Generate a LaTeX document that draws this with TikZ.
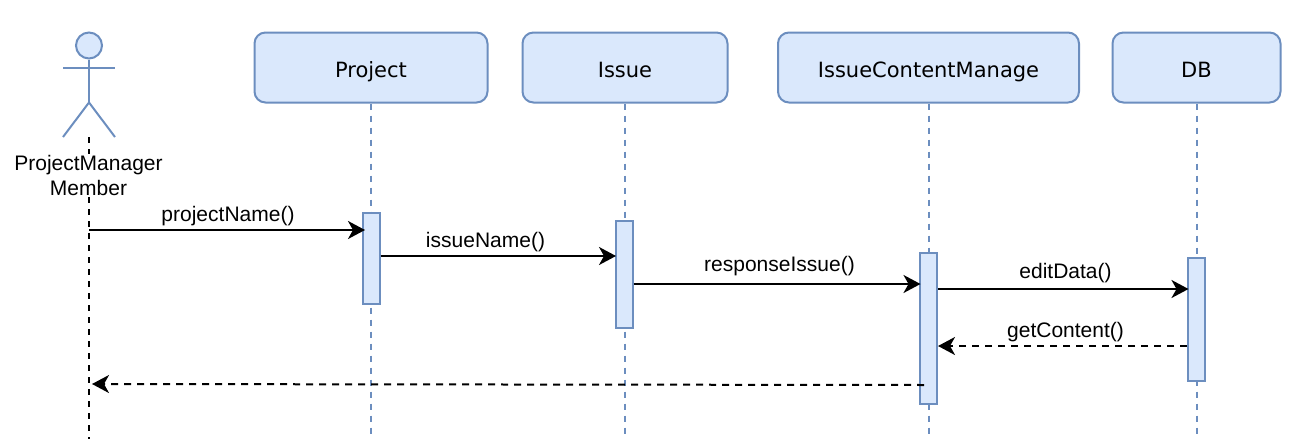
\documentclass[tikz,border=0pt]{standalone}
\usepackage{fontspec}
\setmainfont{Liberation Sans}
\newfontfamily\boxfont{DejaVu Sans}
\usetikzlibrary{arrows.meta}
\definecolor{bfill}{HTML}{DAE8FC}
\definecolor{bline}{HTML}{6C8EBF}
\tikzset{
  x=1pt,y=-1pt,
  objbox/.style={draw=bline,fill=bfill,line width=2pt,rounded corners=11pt,inner sep=0pt,text height=19pt,text depth=0pt,font=\boxfont\fontsize{21}{25}\selectfont},
  actbar/.style={draw=bline,fill=bfill,line width=2pt,inner sep=0pt,minimum width=17pt},
  life/.style={draw=bline,line width=2pt,dash pattern=on 6pt off 6pt},
  lifeblack/.style={draw=black,line width=2pt,dash pattern=on 6pt off 6pt},
  lbl/.style={inner sep=0pt,font=\fontsize{21}{25}\selectfont,text=black},
  msg/.style={draw=black,line width=2pt,-{Stealth[length=17pt,width=18pt,inset=5pt]}},
  ret/.style={msg,dash pattern=on 7pt off 6pt},
  stick/.style={draw=bline,line width=2pt}
}
\begin{document}
\begin{tikzpicture}
\useasboundingbox (0,0) rectangle (1305,439);
% object boxes
\node[objbox,minimum width=233pt,minimum height=70pt] (project) at (371,67.5) {Project};
\node[objbox,minimum width=205pt,minimum height=70pt] (issue) at (625,67.5) {Issue};
\node[objbox,minimum width=301pt,minimum height=70pt] (icm) at (928.5,67.5) {IssueContentManage};
\node[objbox,minimum width=168pt,minimum height=70pt] (db) at (1196.5,67.5) {DB};
% lifeline end points
\coordinate (actfoot) at (89,137);
\coordinate (actend) at (89,439);
\coordinate (projend) at (371,439);
\coordinate (issueend) at (625,439);
\coordinate (icmend) at (928.5,439);
\coordinate (dbend) at (1196.5,439);
% lifelines
\draw[lifeblack] (actfoot) -- (actend);
\draw[life] (project.south) -- (projend);
\draw[life] (issue.south) -- (issueend);
\draw[life] (icm.south) -- (icmend);
\draw[life] (db.south) -- (dbend);
% actor
\node[circle,draw=bline,fill=bfill,line width=2pt,minimum size=26pt,inner sep=0pt] (head) at (89,45.5) {};
\coordinate (hip) at (89,102.5);
\coordinate (armL) at (63,67.5);
\coordinate (armR) at (115,67.5);
\coordinate (legL) at (63,137);
\coordinate (legR) at (115,137);
\draw[stick] (head.south) -- (hip);
\draw[stick] (armL) -- (armR);
\draw[stick] (legL) -- (hip) -- (legR);
\node[lbl,fill=white,align=center,font=\fontsize{21}{25}\selectfont,inner ysep=1pt] (actor) at (88.5,175.5) {ProjectManager\\Member};
% activation bars
\node[actbar,minimum height=91pt] (bar1) at (371,258) {};
\node[actbar,minimum height=107pt] (bar2) at (624,274.5) {};
\node[actbar,minimum height=151pt] (bar3) at (928.5,328) {};
\node[actbar,minimum height=123pt] (bar4) at (1196.5,319.5) {};
% message anchors
\coordinate (m1a) at (89,230);
\coordinate (m1b) at (365,230);
\coordinate (m2a) at (bar1.east |- 0,256);
\coordinate (m2b) at (616,256);
\coordinate (m3a) at (bar2.east |- 0,284);
\coordinate (m3b) at (920.5,284);
\coordinate (m4a) at (bar3.east |- 0,289);
\coordinate (m4b) at (1188.5,289);
\coordinate (m5a) at (bar4.west |- 0,346);
\coordinate (m5b) at (938,346);
\coordinate (m6a) at (924,385);
\coordinate (m6b) at (92,384);
% messages
\draw[msg] (m1a) -- (m1b);
\draw[msg] (m2a) -- (m2b);
\draw[msg] (m3a) -- (m3b);
\draw[msg] (m4a) -- (m4b);
\draw[ret] (m5a) -- (m5b);
\draw[ret] (m6a) -- (m6b);
% labels
\node[lbl] (l1) at (228,216) {projectName()};
\node[lbl] (l2) at (485.5,242) {issueName()};
\node[lbl] (l3) at (779.5,266) {responseIssue()};
\node[lbl] (l4) at (1065.5,273) {editData()};
\node[lbl] (l5) at (1065.5,332) {getContent()};
\end{tikzpicture}
\end{document}
